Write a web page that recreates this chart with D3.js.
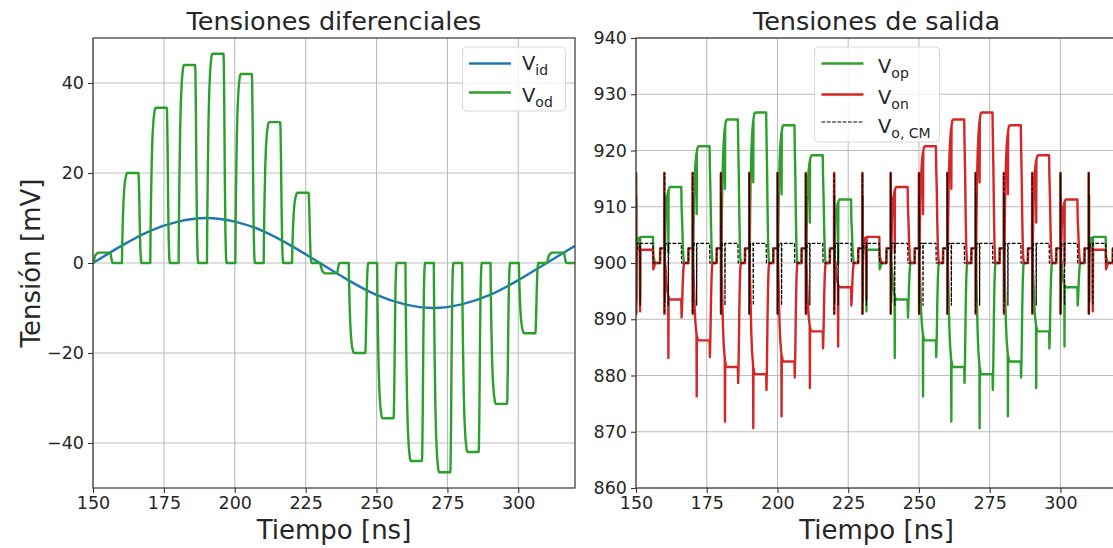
<!DOCTYPE html>
<html>
<head>
<meta charset="utf-8">
<script src="https://cdn.jsdelivr.net/npm/d3@7"></script>
<style>

body { margin: 0; background: #fff; }

svg text {
  font-family: "DejaVu Sans", sans-serif;
  fill: #262626;
}

.grid line {
  stroke: #bdbdbd;
  stroke-width: 1.1px;
}

.spine {
  fill: none;
  stroke: #444;
  stroke-width: 1.3px;
}

.tick line { stroke: #333; stroke-width: 1.1px; }

.trace {
  fill: none;
  stroke-width: 2.4px;
  stroke-linejoin: round;
}

.legend-box {
  fill: #fff;
  fill-opacity: 0.8;
  stroke: #d6d6d6;
  stroke-width: 1px;
}

</style>
</head>
<body>

<svg id="fig" width="1113" height="548"></svg>

<script>

/// Clock period starts (ns) and the differential value held in each period (mV)
var cycleStart = [150, 160, 170, 180, 190, 200, 210, 220, 230, 240, 250, 260, 270, 280, 290, 300, 310];
var vodHold    = [2.3, 20, 34.5, 44, 46.5, 42, 31.3, 15.6, -2.3, -20, -34.5, -44, -46.5, -42, -31.3, -15.6, 2.3];

/// Input differential voltage, read every 10 ns (mV)
var vidTime  = [150, 160, 170, 180, 190, 200, 210, 220, 230, 240, 250, 260, 270, 280, 290, 300, 310, 320];
var vidValue = [0, 3.8, 7.1, 9.2, 10, 9.2, 7.1, 3.8, 0, -3.8, -7.1, -9.2, -10, -9.2, -7.1, -3.8, 0, 3.8];

/// Shape of one clock period: offset (ns), common mode (mV), fraction of held value
var stepOffset = [0, 0.02, 0.06, 0.1, 0.14, 0.2, 0.3, 0.5, 0.75, 1.0, 1.3, 1.38, 1.45, 1.52, 1.8, 2.1, 6.0, 6.12, 6.3, 6.5, 6.7, 6.9, 7.1, 8.5, 8.55];
var stepCM     = [902.6, 916, 891, 912, 893, 900, 902, 903.5, 903.5, 903.5, 903.5, 903.5, 892.5, 903.5, 903.5, 903.5, 903.5, 900, 900, 900, 900, 900, 900, 900, 902.6];
var stepFrac   = [0, 0, 0, 0, 0, 0, 0.2, 0.45, 0.68, 0.82, 0.91, 0.93, 0.94, 0.95, 0.99, 1, 1, 0.97, 0.75, 0.4, 0.15, 0.03, 0, 0, 0];

var xTicks      = [150, 175, 200, 225, 250, 275, 300];
var yTicksDiff  = [-40, -20, 0, 20, 40];
var yTicksOut   = [860, 870, 880, 890, 900, 910, 920, 930, 940];

/// Build traces from the period shape
var vod = [], vop = [], von = [], vcm = [];
cycleStart.forEach(function(t0, k) {
  var v = vodHold[k];
  stepOffset.forEach(function(dt, i) {
    var f = stepFrac[i] * v, c = stepCM[i];
    vod.push({x: t0 + dt, y: f});
    vop.push({x: t0 + dt, y: c + f / 2});
    von.push({x: t0 + dt, y: c - f / 2});
    vcm.push({x: t0 + dt, y: c});
  });
});
[vod, vop, von, vcm].forEach(function(s, j) {
  s.push({x: 320, y: j === 0 ? 0 : stepCM[stepCM.length - 1]});
});
var vid = vidTime.map(function(t, i) { return {x: t, y: vidValue[i]}; });

var svg = d3.select("#fig");
var fmt = function(d) { return d < 0 ? "\u2212" + Math.abs(d) : "" + d; };

function panel(id, box, yDomain, yTicks, title) {
  var x = d3.scaleLinear().domain([150, 320]).range([box.x0, box.x1]);
  var y = d3.scaleLinear().domain(yDomain).range([box.y1, box.y0]);
  var g = svg.append("g");

  /// grid
  var grid = g.append("g").attr("class", "grid");
  grid.selectAll(".gx").data(xTicks).enter().append("line")
      .attr("x1", x).attr("x2", x).attr("y1", box.y0).attr("y2", box.y1);
  grid.selectAll(".gy").data(yTicks).enter().append("line")
      .attr("x1", box.x0).attr("x2", box.x1).attr("y1", y).attr("y2", y);

  /// axes
  g.append("g")
      .attr("transform", "translate(0," + box.y1 + ")")
      .call(d3.axisBottom(x).tickValues(xTicks).tickSize(5).tickPadding(4).tickFormat(fmt))
      .call(function(a) { a.select(".domain").remove(); })
      .selectAll("text").style("font-size", "17.5px").attr("fill", "#262626");
  g.append("g")
      .attr("transform", "translate(" + box.x0 + ",0)")
      .call(d3.axisLeft(y).tickValues(yTicks).tickSize(5).tickPadding(4).tickFormat(fmt))
      .call(function(a) { a.select(".domain").remove(); })
      .selectAll("text").style("font-size", "17.5px").attr("fill", "#262626");

  g.append("clipPath").attr("id", id)
    .append("rect")
      .attr("x", box.x0).attr("y", box.y0)
      .attr("width", box.x1 - box.x0).attr("height", box.y1 - box.y0);

  g.append("text")
      .attr("x", (box.x0 + box.x1) / 2).attr("y", 30)
      .attr("text-anchor", "middle")
      .style("font-size", "25.5px")
      .text(title);

  g.append("text")
      .attr("x", (box.x0 + box.x1) / 2).attr("y", 539)
      .attr("text-anchor", "middle")
      .style("font-size", "26px")
      .text("Tiempo [ns]");

  var plot = g.append("g").attr("clip-path", "url(#" + id + ")");
  var line = d3.line()
      .x(function(d) { return x(d.x); })
      .y(function(d) { return y(d.y); });

  return {g: g, plot: plot, line: line, box: box};
}

function spines(p) {
  var b = p.box;
  p.g.append("rect").attr("class", "spine")
      .attr("x", b.x0).attr("y", b.y0)
      .attr("width", b.x1 - b.x0).attr("height", b.y1 - b.y0);
}

function legend(g, bx, by, bw, bh, items) {
  g.append("rect").attr("class", "legend-box")
      .attr("x", bx).attr("y", by).attr("width", bw).attr("height", bh)
      .attr("rx", 4).attr("ry", 4);
  items.forEach(function(it) {
    g.append("line")
        .attr("x1", it.lx).attr("x2", it.lx + 42).attr("y1", it.ly).attr("y2", it.ly)
        .attr("stroke", it.color)
        .attr("stroke-width", it.dash ? 1.2 : 2.4)
        .attr("stroke-dasharray", it.dash ? "3.7,1.6" : null);
    var t = g.append("text").attr("x", it.tx).attr("y", it.ty).style("font-size", "19.5px");
    t.append("tspan").text("V");
    t.append("tspan").attr("dy", 5).style("font-size", "14px").text(it.sub);
  });
}

/// Left panel: differential voltages
var left = panel("clipL", {x0: 93, x1: 575, y0: 38, y1: 488}, [-50, 50], yTicksDiff, "Tensiones diferenciales");

left.plot.append("path").datum(vid)
    .attr("class", "trace").attr("stroke", "#1f77b4")
    .attr("d", left.line.curve(d3.curveNatural));
left.plot.append("path").datum(vod)
    .attr("class", "trace").attr("stroke", "#2ca02c")
    .attr("d", left.line.curve(d3.curveLinear));
spines(left);

left.g.append("text")
    .attr("transform", "translate(40,263) rotate(-90)")
    .attr("text-anchor", "middle")
    .style("font-size", "26px")
    .text("Tensión [mV]");

legend(left.g, 462.5, 47, 103, 64, [
  {lx: 469, ly: 63.5, tx: 522, ty: 70, color: "#1f77b4", sub: "id"},
  {lx: 469, ly: 92.5, tx: 522, ty: 101.5, color: "#2ca02c", sub: "od"}
]);

/// Right panel: output voltages
var right = panel("clipR", {x0: 636, x1: 1117, y0: 38, y1: 488}, [860, 940], yTicksOut, "Tensiones de salida");

right.plot.append("path").datum(vop)
    .attr("class", "trace").attr("stroke", "#2ca02c").attr("d", right.line);
right.plot.append("path").datum(von)
    .attr("class", "trace").attr("stroke", "#d62728").attr("d", right.line);
right.plot.append("path").datum(vcm)
    .attr("class", "trace").attr("stroke", "#000")
    .style("stroke-width", "1.2px").attr("stroke-dasharray", "3.7,1.6")
    .attr("d", right.line);
spines(right);

legend(right.g, 814.5, 47, 125, 95, [
  {lx: 821.5, ly: 63.5, tx: 878, ty: 73, color: "#2ca02c", sub: "op"},
  {lx: 821.5, ly: 94.5, tx: 878, ty: 104, color: "#d62728", sub: "on"},
  {lx: 821.5, ly: 122, tx: 878, ty: 132.5, color: "#000", sub: "o, CM", dash: true}
]);

</script>
</body>
</html>
